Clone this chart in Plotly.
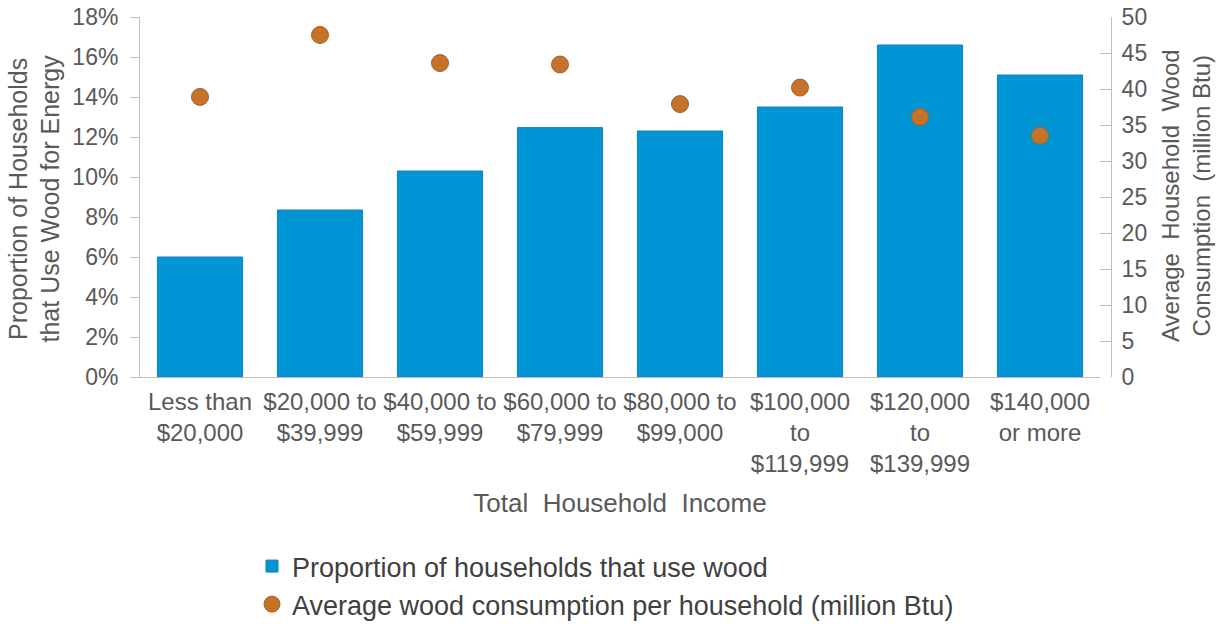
import plotly.graph_objects as go

categories = ["Less than<br>$20,000", "$20,000 to<br>$39,999", "$40,000 to<br>$59,999",
              "$60,000 to<br>$79,999", "$80,000 to<br>$99,000", "$100,000<br>to<br>$119,999",
              "$120,000<br>to<br>$139,999", "$140,000<br>or more"]
share_using_wood = [0.060, 0.0835, 0.103, 0.1247, 0.123, 0.135, 0.166, 0.151]
avg_consumption = [38.9, 47.5, 43.6, 43.4, 37.9, 40.2, 36.1, 33.5]
left_title = "Proportion of Households<br>that Use Wood for Energy"
right_title = "Average  Household  Wood<br>Consumption  (million Btu)"
x_title = "Total  Household  Income"

FONT = "Liberation Sans, Arial, sans-serif"
TXT = "#595959"
AX = "#BFBFBF"

W, H = 1219, 624
L, R_AX, R_PLOT, T, B = 140, 1111, 1100, 17, 377
pw = R_AX - L
ph = B - T

fig = go.Figure()
fig.add_trace(go.Bar(
    x=categories, y=share_using_wood, name="Proportion of households that use wood",
    marker=dict(color="#0096D6", line=dict(color="#1A7DB8", width=1)),
    yaxis="y", legendgroup="a",
))
fig.add_trace(go.Scatter(
    x=categories, y=avg_consumption, name="Average wood consumption per household (million Btu)",
    mode="markers", marker=dict(color="#C5722B", size=17, line=dict(color="#A85F22", width=1)),
    yaxis="y2", legendgroup="b",
))

fig.update_layout(
    width=W, height=H,
    margin=dict(l=L, r=W - R_AX, t=T, b=H - B, autoexpand=False),
    paper_bgcolor="white", plot_bgcolor="white",
    font=dict(family=FONT, color=TXT, size=23),
    bargap=0.29,
    showlegend=True,
    legend=dict(orientation="v", x=(252 - L) / pw, xanchor="left",
                y=(B - 542) / ph, yanchor="top",
                font=dict(size=27, color="#404040"), tracegroupgap=0,
                bgcolor="rgba(0,0,0,0)"),
    xaxis=dict(domain=[0, (R_PLOT - L) / pw], showline=True, linecolor=AX, linewidth=1,
               ticks="", tickfont=dict(size=24, color=TXT), showgrid=False,
               ticklabelstandoff=3,
               title=dict(text=x_title, font=dict(size=26, color=TXT), standoff=17)),
    yaxis=dict(range=[0, 0.18], tickvals=[0, 0.02, 0.04, 0.06, 0.08, 0.10, 0.12, 0.14, 0.16, 0.18],
               tickformat=".0%", showgrid=False, zeroline=False, ticklabeloverflow="allow",
               showline=True, linecolor=AX, ticks="outside", ticklen=9, tickcolor=AX,
               ticklabelstandoff=7, tickfont=dict(size=23, color=TXT)),
    yaxis2=dict(range=[0, 50], dtick=5, overlaying="y", side="right", anchor="free", position=1.0,
                showgrid=False, zeroline=False, showline=True, linecolor=AX, ticklabeloverflow="allow",
                ticks="inside", ticklen=11, tickcolor=AX, tickfont=dict(size=23, color=TXT),
                ticklabelstandoff=5),
    annotations=[
        dict(text=left_title, textangle=-90, xref="paper", yref="paper",
             x=(33.5 - L) / pw, y=(B - 199) / ph, xanchor="center", yanchor="middle",
             showarrow=False, font=dict(size=25, color=TXT)),
        dict(text=right_title, textangle=-90, xref="paper", yref="paper",
             x=(1186 - L) / pw, y=(B - 196) / ph, xanchor="center", yanchor="middle",
             showarrow=False, font=dict(size=24, color=TXT)),
    ],
)

fig.write_html("out.html", config={"displayModeBar": False},
               post_script="document.body.style.margin='0';document.body.style.overflow='hidden';")
